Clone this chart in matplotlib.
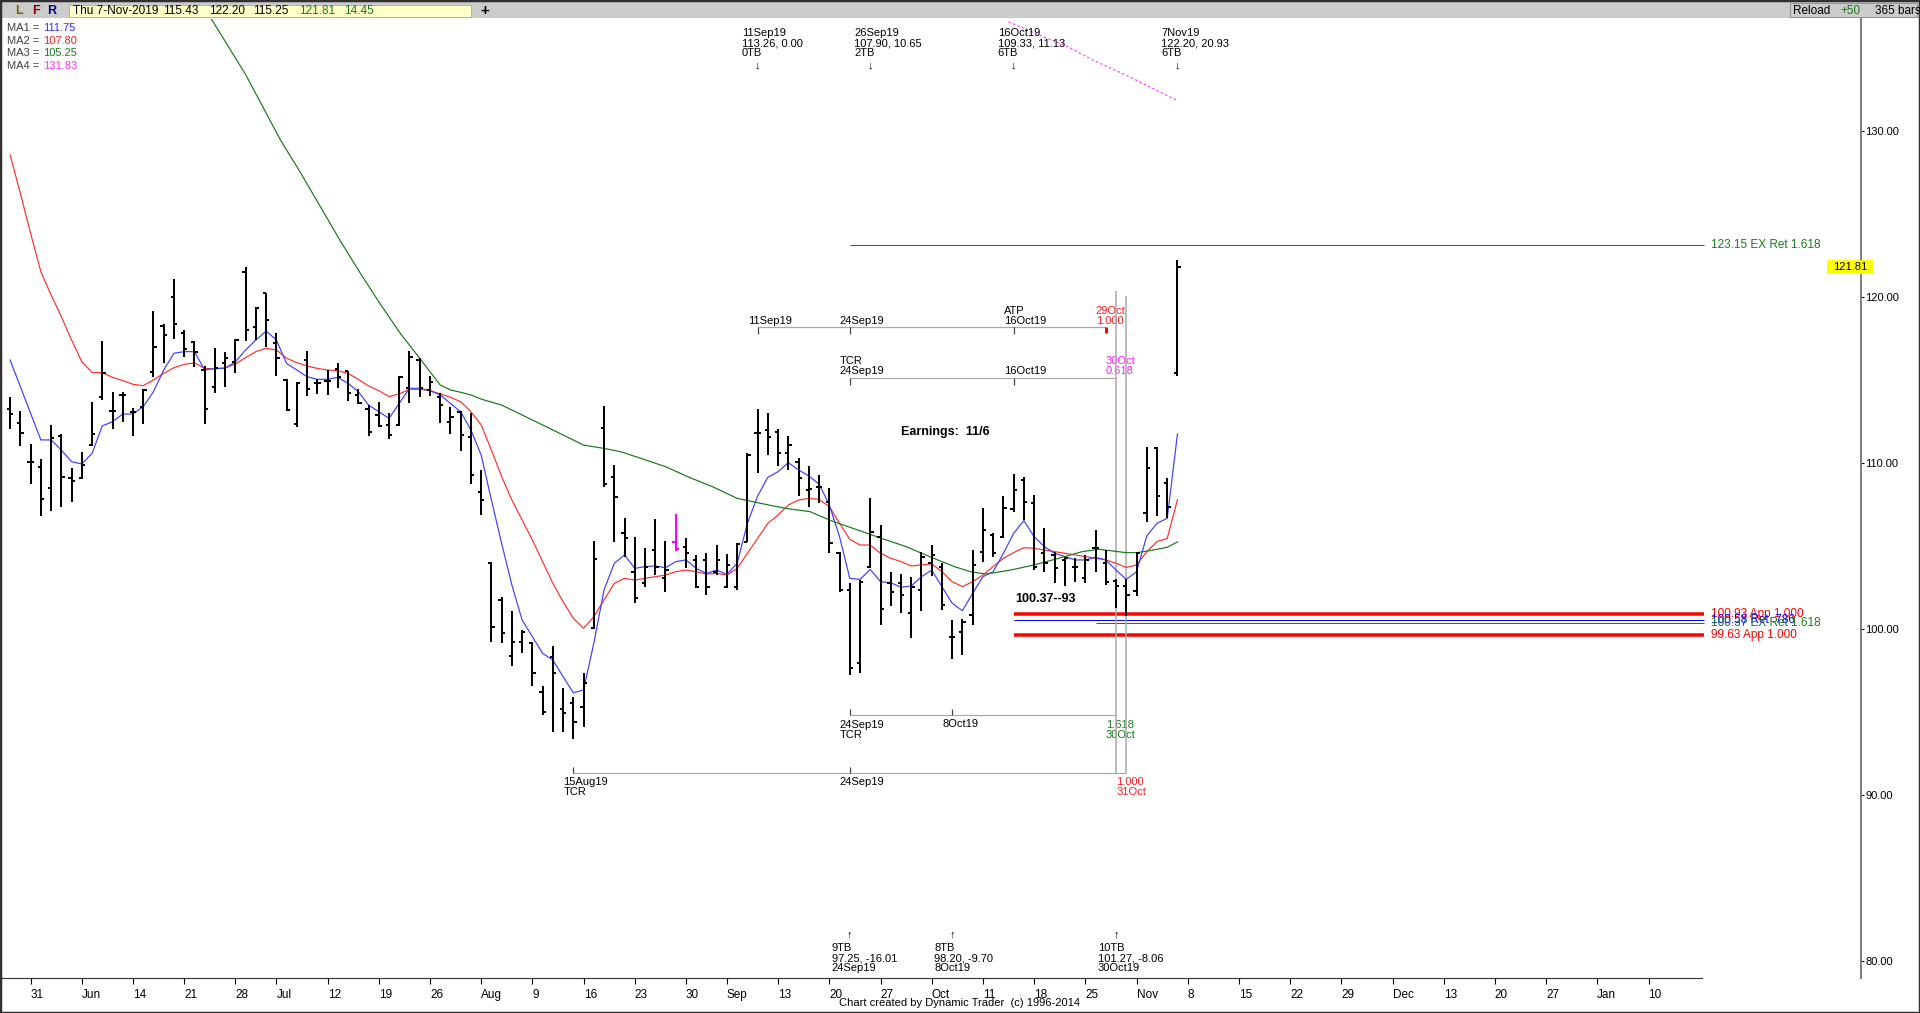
import numpy as np
import matplotlib
matplotlib.use('Agg')
import matplotlib.pyplot as plt
from matplotlib.patches import Rectangle
from matplotlib.transforms import offset_copy

plt.rcParams['font.family'] = ['Liberation Sans', 'DejaVu Sans']

# layout of the screen grab (pixels)
W, H = 1920, 1013
X0, PXB = 30.6, 10.24     # pixel of bar 0 (31May19), pixels per bar
Y100, PXP = 629.0, 16.6   # pixel of price 100, pixels per point

def ix(px): return (px - X0) / PXB
def pr(py): return 100 + (Y100 - py) / PXP
def fy(py): return 1 - py / H
def fx(px): return px / W

# daily bars 29May19 .. 7Nov19 (trading day index, 31May19 = 0)
bar_idx = np.arange(-2, 113)
highlight_bar = 63

opens = [113.23, 112.39, 110.06, 109.78, 108.51, 111.63, 109.08, 109.08, 111.08, 113.96,
         113.15, 114.10, 113.09, 113.39, 115.50, 118.25, 120.02, 117.85, 117.31, 115.60,
         114.60, 116.00, 116.10, 121.53, 118.21, 120.22, 117.21, 115.00, 112.35, 116.20,
         114.80, 114.96, 115.64, 115.54, 114.10, 113.23, 112.89, 112.29, 112.29, 114.50,
         116.20, 114.40, 114.00, 112.49, 113.09, 111.59, 108.27, 103.96, 101.75, 98.39,
         99.24, 99.14, 96.22, 98.33, 95.16, 95.52, 95.32, 100.04, 112.09, 109.18,
         105.76, 103.45, 102.75, 104.76, 103.05, 105.26, 104.96, 104.16, 104.16, 103.45,
         102.55, 102.55, 105.26, 111.79, 112.00, 111.87, 110.58, 110.08, 108.37, 108.57,
         107.67, 104.56, 102.35, 97.93, 103.76, 105.56, 102.79, 102.75, 100.94, 102.35,
         103.96, 103.76, 99.50, 99.84, 100.84, 104.66, 105.66, 105.56, 107.21, 108.98,
         107.57, 104.56, 104.46, 104.16, 103.76, 103.05, 104.86, 103.96, 102.90, 102.60,
         102.30, 107.01, 110.88, 108.78, 115.43]
highs = [113.96, 113.15, 111.14, 110.24, 112.29, 111.73, 109.68, 110.64, 113.65, 117.37,
         114.26, 114.26, 113.29, 114.44, 119.16, 118.35, 121.06, 118.01, 117.35, 115.86,
         116.91, 116.71, 117.47, 121.83, 119.42, 120.26, 117.81, 115.04, 114.86, 116.75,
         115.04, 115.60, 116.04, 115.56, 114.46, 113.49, 113.69, 113.03, 115.24, 116.75,
         116.31, 115.24, 114.20, 113.39, 113.15, 112.99, 109.58, 104.06, 101.95, 101.10,
         99.94, 99.24, 96.57, 98.98, 96.47, 95.92, 97.37, 105.30, 113.43, 109.88,
         106.67, 105.56, 104.86, 106.61, 105.30, 106.93, 105.46, 104.46, 104.56, 105.06,
         104.52, 105.16, 110.58, 113.26, 113.03, 112.03, 111.63, 110.28, 109.82, 109.28,
         108.47, 104.66, 102.79, 102.95, 107.90, 106.27, 103.45, 103.31, 103.15, 104.66,
         105.06, 103.96, 100.54, 100.58, 104.76, 107.27, 105.80, 108.01, 109.33, 109.18,
         108.07, 106.06, 104.66, 104.36, 104.26, 104.46, 105.96, 104.76, 103.00, 103.00,
         104.66, 110.98, 110.98, 109.08, 122.20]
lows = [112.03, 111.02, 108.73, 106.81, 107.11, 107.33, 107.67, 109.02, 111.02, 113.80,
        112.03, 112.45, 111.63, 112.35, 115.20, 116.04, 117.47, 116.37, 115.80, 112.35,
        114.20, 114.60, 115.40, 117.35, 117.41, 116.97, 115.26, 113.15, 112.15, 114.04,
        114.16, 114.10, 114.50, 113.76, 113.55, 111.63, 112.15, 111.45, 112.25, 113.59,
        113.96, 114.04, 112.39, 111.73, 110.74, 108.71, 106.87, 99.24, 99.14, 97.77,
        98.53, 96.57, 94.82, 93.82, 93.82, 93.35, 94.08, 99.98, 108.53, 105.26,
        104.36, 101.55, 102.55, 103.25, 102.21, 104.72, 103.65, 102.45, 102.05, 103.25,
        102.45, 102.35, 105.26, 109.38, 110.48, 109.82, 109.58, 108.01, 107.37, 107.61,
        104.60, 102.25, 97.25, 97.37, 103.65, 100.24, 101.39, 100.98, 99.44, 101.10,
        103.19, 101.14, 98.20, 98.43, 100.24, 104.06, 104.36, 105.46, 107.07, 106.57,
        103.55, 103.45, 102.75, 102.59, 102.85, 102.79, 103.45, 102.65, 101.27, 100.78,
        102.00, 106.47, 106.81, 106.67, 115.25]
closes = [112.95, 111.83, 110.06, 107.81, 111.49, 109.18, 108.94, 109.88, 111.75, 115.44,
          113.15, 114.10, 113.09, 114.40, 116.97, 117.71, 118.35, 116.87, 116.71, 113.23,
          115.74, 116.31, 117.41, 118.01, 119.32, 118.61, 116.31, 113.19, 114.80, 114.44,
          114.80, 114.96, 115.16, 114.20, 113.59, 111.85, 112.23, 111.69, 115.16, 116.41,
          114.50, 114.90, 113.49, 112.75, 111.69, 109.28, 107.77, 100.14, 99.74, 99.24,
          99.84, 97.37, 95.02, 97.37, 94.92, 94.42, 96.73, 104.22, 108.73, 107.93,
          105.46, 101.89, 103.76, 103.76, 103.55, 104.80, 104.56, 102.55, 102.55, 104.16,
          103.86, 105.12, 110.48, 111.83, 111.59, 110.58, 111.08, 109.08, 108.41, 108.57,
          105.16, 102.35, 97.63, 102.85, 105.86, 101.18, 102.25, 102.05, 102.55, 104.36,
          104.46, 101.45, 99.54, 100.44, 103.86, 105.96, 104.56, 107.27, 108.37, 107.67,
          103.76, 103.96, 103.65, 104.26, 103.76, 104.16, 104.86, 102.85, 102.60, 102.05,
          104.60, 109.68, 108.03, 107.37, 121.81]

# moving averages
ma1 = [116.20, 114.60, 112.99, 111.39, 111.39, 110.78, 110.08, 109.94, 110.58, 112.23,
       112.49, 112.95, 112.95, 113.39, 114.30, 115.60, 116.61, 116.71, 116.71, 115.60,
       115.70, 115.70, 116.10, 116.81, 117.41, 117.95, 117.41, 116.00, 115.60, 115.20,
       115.04, 115.04, 115.16, 114.80, 114.30, 113.49, 113.09, 112.69, 113.59, 114.50,
       114.50, 114.36, 114.10, 113.59, 113.09, 111.99, 110.48, 107.77, 105.16, 102.65,
       100.54, 99.54, 98.53, 98.13, 97.13, 96.16, 96.33, 99.14, 102.35, 103.96,
       104.46, 103.65, 103.76, 103.80, 103.69, 104.06, 104.16, 103.65, 103.35, 103.55,
       103.29, 103.96, 106.37, 108.01, 109.14, 109.48, 110.02, 109.58, 109.22, 108.73,
       107.47, 105.56, 103.05, 102.99, 103.59, 102.85, 102.79, 102.51, 102.59, 103.15,
       103.55, 102.55, 101.55, 101.10, 102.15, 103.15, 103.45, 104.56, 105.76, 106.53,
       105.56, 104.96, 104.56, 104.36, 104.16, 104.16, 104.32, 104.16, 103.55, 102.99,
       103.45, 105.60, 106.37, 106.67, 111.75]
ma2 = [128.55, 126.24, 123.84, 121.53, 120.12, 118.82, 117.41, 116.10, 115.46, 115.44,
       115.16, 114.96, 114.74, 114.66, 115.00, 115.40, 115.74, 115.94, 116.04, 115.70,
       115.66, 115.74, 115.96, 116.35, 116.71, 116.91, 116.81, 116.31, 116.04, 115.84,
       115.70, 115.60, 115.56, 115.40, 115.04, 114.64, 114.36, 114.00, 114.16, 114.44,
       114.44, 114.36, 114.16, 113.96, 113.69, 113.09, 112.29, 110.78, 109.18, 107.77,
       106.57, 105.36, 104.06, 102.75, 101.65, 100.64, 100.04, 100.74, 101.75, 102.75,
       103.05, 102.95, 103.05, 103.15, 103.25, 103.45, 103.55, 103.45, 103.31, 103.35,
       103.25, 103.65, 104.56, 105.46, 106.37, 106.87, 107.47, 107.77, 107.87, 107.81,
       107.37, 106.37, 105.40, 105.06, 105.06, 104.56, 104.26, 104.06, 103.80, 103.86,
       103.92, 103.45, 102.85, 102.55, 102.85, 103.25, 103.76, 104.26, 104.60, 104.90,
       104.86, 104.76, 104.66, 104.56, 104.46, 104.36, 104.26, 104.16, 103.96, 103.71,
       103.86, 104.66, 105.26, 105.46, 107.80]
ma3_x = [17.5, 21, 24.4, 26.3, 28.3, 30.2, 32.2, 34.1, 36.1, 38, 39, 40, 41, 42, 43, 44,
         46, 48, 51, 54, 56, 57.6, 59.6, 62, 64.3, 66.6, 69, 71.3, 73.7, 76.1, 78.4, 80.8,
         83.1, 85.5, 87.8, 90.2, 91.8, 93.3, 95.7, 98, 100.4, 102.7, 104.3, 107, 108,
         109.3, 111, 112]
ma3 = [136.9, 133.4, 129.46, 127.55, 125.44, 123.43, 121.43, 119.62, 117.81, 116.31,
       115.50, 114.70, 114.40, 114.26, 114.10, 113.85, 113.49, 112.89, 111.99, 111.08,
       110.88, 110.68, 110.28, 109.78, 109.14, 108.57, 107.87, 107.57, 107.27, 107.07,
       106.47, 105.96, 105.46, 104.96, 104.36, 103.76, 103.45, 103.31, 103.55, 103.86,
       104.26, 104.66, 104.80, 104.60, 104.60, 104.72, 104.92, 105.25]
ma4_x = [95.5, 98.5, 101.3, 103.7, 107.3, 112]
ma4 = [136.58, 135.78, 135.08, 134.28, 133.27, 131.83]

# date axis (Fridays; future bars are plain weekdays)
tick_idx = [0, 5, 10, 15, 20, 24, 29, 34, 39, 44, 49, 54, 59, 64, 68, 73, 78, 83, 88, 93,
            98, 103, 108, 113, 118, 123, 128, 133, 138, 143, 148, 153, 158]
tick_lbl = ['31', 'Jun', '14', '21', '28', 'Jul', '12', '19', '26', 'Aug', '9', '16', '23',
            '30', 'Sep', '13', '20', '27', 'Oct', '11', '18', '25', 'Nov', '8', '15', '22',
            '29', 'Dec', '13', '20', '27', 'Jan', '10']
price_ticks = [80, 90, 100, 110, 120, 130]

# projection levels
lvl_price = [123.15, 100.93, 100.55, 100.37, 99.63]
lvl_start = [80, 96, 96, 104, 96]
lvl_text = ['123.15 EX Ret 1.618', '100.93 App 1.000', '100.58 Ret .786',
            '100.37 EX Ret 1.618', '99.63 App 1.000']
lvl_color = ['#1a7a1a', '#ff0000', '#0000ff', '#1a7a1a', '#ff0000']
lvl_width = [1, 3.5, 1, 1, 3.5]

# swing labels: bar, text
top_swings = [(71, '11Sep19\n113.26, 0.00\n0TB'), (82, '26Sep19\n107.90, 10.65\n2TB'),
              (96, '16Oct19\n109.33, 11.13\n6TB'), (112, '7Nov19\n122.20, 20.93\n6TB')]
bot_swings = [(80, '9TB\n97.25, -16.01\n24Sep19'), (90, '8TB\n98.20, -9.70\n8Oct19'),
              (106, '10TB\n101.27, -8.06\n30Oct19')]

fig = plt.figure(figsize=(W / 100, H / 100), dpi=100)
fig.patch.set_facecolor('white')
ax = fig.add_axes([fx(2), fy(978), fx(1861) - fx(2), fy(19) - fy(978)])
ax.set_xlim(ix(2), ix(1861))
ax.set_ylim(pr(978), pr(19))
ax.set_facecolor('white')

PT = 0.72  # points per pixel

# bars
cols = ['#ff00ff' if i == highlight_bar else 'black' for i in bar_idx]
ax.vlines(bar_idx, lows, highs, colors=cols, lw=2 * PT, zorder=4)
ax.hlines(opens, bar_idx - 0.32, bar_idx, colors=cols, lw=2 * PT, zorder=4)
ax.hlines(closes, bar_idx, bar_idx + 0.32, colors=cols, lw=2 * PT, zorder=4)

# moving averages
ax.plot(bar_idx, ma2, color='#ff3030', lw=1.2 * PT, zorder=3)
ax.plot(bar_idx, ma1, color='#4040ff', lw=1.2 * PT, zorder=3)
ax.plot(ma3_x, ma3, color='#1a7a1a', lw=1.2 * PT, zorder=3)
ax.plot(ma4_x, ma4, color='#ff40ff', lw=1.2 * PT, ls=(0, (2, 2)), zorder=3)

# projection levels
x_end = ix(1704)
for p, s, t, c, w in zip(lvl_price, lvl_start, lvl_text, lvl_color, lvl_width):
    ax.hlines(p, s, x_end, color=c, lw=w * PT, zorder=2)
    ax.text(ix(1711), p, t, color=c, fontsize=8.5, va='center', ha='left')

ax.text(ix(1015), pr(599), '100.37--93', fontsize=9, fontweight='bold', va='center')
ax.text(ix(901), pr(432), 'Earnings:  11/6', fontsize=9, fontweight='bold', va='center')

# time rulers
grey = '#a8a8a8'
def off(dx=0, dy=0):
    return offset_copy(ax.transData, fig=fig, x=dx, y=dy, units='dots')

def ruler(y_px, i0, i1, ticks, down):
    ax.hlines(pr(y_px), i0, i1, color=grey, lw=1.2 * PT, zorder=2)
    for t in ticks:
        ax.vlines(t, pr(y_px), pr(y_px + (7 if down else -6)), color='#404040', lw=1.2 * PT, zorder=2)

def tlabel(i, y_px, s, color='black'):
    ax.text(i, pr(y_px), s, transform=off(-10), color=color, fontsize=8,
            va='center', ha='left', linespacing=0.95, zorder=1)

ruler(327, 71, 105, [71, 80, 96], True)
ax.vlines(105, pr(327), pr(333), color='red', lw=3 * PT, zorder=3)
tlabel(71, 321, '11Sep19')
tlabel(80, 321, '24Sep19')
tlabel(96, 316, 'ATP\n16Oct19')
tlabel(105, 316, '29Oct\n1.000', '#ff2020')

ruler(378, 80, 106, [80, 96], True)
tlabel(80, 366, 'TCR\n24Sep19')
tlabel(96, 371, '16Oct19')
tlabel(106, 366, '30Oct\n0.618', '#ff20ff')

ruler(715, 80, 106, [80, 90], False)
tlabel(80, 730, '24Sep19\nTCR')
tlabel(90, 724, '8Oct19')
tlabel(106, 730, '1.618\n30Oct', '#1a7a1a')

ruler(773, 53, 107, [53, 80], False)
tlabel(53, 787, '15Aug19\nTCR')
tlabel(80, 782, '24Sep19')
tlabel(107, 787, '1.000\n31Oct', '#ff2020')

ax.vlines(106, pr(773), pr(291), color=grey, lw=1.5 * PT, zorder=2)
ax.vlines(107, pr(773), pr(296), color=grey, lw=1.5 * PT, zorder=2)

# swing annotations
for i, s in top_swings:
    ax.text(i, pr(43), s, transform=off(-16), fontsize=8, va='center', ha='left',
            linespacing=1.0)
    ax.text(i, pr(65), '\u2193', fontsize=8, va='center', ha='center')
for i, s in bot_swings:
    ax.text(i, pr(958), s, transform=off(-18), fontsize=8, va='center', ha='left',
            linespacing=1.0)
    ax.text(i, pr(934), '\u2191', fontsize=8, va='center', ha='center')

# axes
for k in ['left', 'top']:
    ax.spines[k].set_visible(False)
ax.spines['bottom'].set_bounds(ix(2), ix(1702))
ax.spines['bottom'].set_color('#303030')
ax.spines['right'].set_color('#808080')
ax.spines['right'].set_linewidth(2 * PT)
ax.set_xticks(tick_idx)
ax.set_xticklabels(tick_lbl, family=['Liberation Sans Narrow', 'Liberation Sans'], fontsize=8.5)
for t in ax.get_xticklabels():
    t.set_ha('left')
ax.tick_params(axis='x', direction='out', length=4, width=0.8, pad=4, colors='black')
ax.yaxis.tick_right()
ax.set_yticks(price_ticks)
ax.set_yticklabels(['%.2f' % p for p in price_ticks], fontsize=8)
ax.tick_params(axis='y', direction='out', length=2, width=0.8, pad=1)

# last price marker
fig.patches.append(Rectangle((fx(1827), fy(274)), fx(46), 14 / H, transform=fig.transFigure,
                             fc='#ffff00', ec='none', zorder=5))
fig.text(fx(1850), fy(267), '121.81', fontsize=8, ha='center', va='center', zorder=6)

# toolbar
fig.patches.append(Rectangle((0, fy(18.5)), 1, 17 / H, transform=fig.transFigure,
                             fc='#cbcbcb', ec='none'))
fig.patches.append(Rectangle((0, fy(2)), 1, 2 / H, transform=fig.transFigure,
                             fc='#505050', ec='none'))
fig.patches.append(Rectangle((fx(69), fy(17)), fx(402), 12 / H, transform=fig.transFigure,
                             fc='#ffffc8', ec='#a0a0a0', lw=0.5))
for x, s, c in [(19, 'L', '#6b6b00'), (36, 'F', '#800000'), (52, 'R', '#000080')]:
    fig.text(fx(x), fy(11), s, color=c, fontsize=9, fontweight='bold', ha='center', va='center')
for x, s, c in [(73, 'Thu 7-Nov-2019', 'black'), (163, '115.43', 'black'),
                (209, '122.20', 'black'), (253, '115.25', 'black'),
                (299, '121.81', '#1a7a1a'), (344, '14.45', '#1a7a1a')]:
    fig.text(fx(x), fy(11), s, color=c, fontsize=8.5, ha='left', va='center')
fig.text(fx(485), fy(11), '+', fontsize=11, fontweight='bold', ha='center', va='center')
fig.patches.append(Rectangle((fx(1790), fy(17)), fx(127), 14 / H, transform=fig.transFigure,
                             fc='#cbcbcb', ec='#808080', lw=0.5))
fig.text(fx(1793), fy(11), 'Reload', fontsize=8.5, ha='left', va='center')
fig.text(fx(1840), fy(11), '+50', color='#1a7a1a', fontsize=8.5, ha='left', va='center')
fig.text(fx(1875), fy(11), '365 bars', fontsize=8.5, ha='left', va='center')

# MA legend
for y, n, v, c in [(28, 'MA1', '111.75', '#3030ff'), (41, 'MA2', '107.80', '#ff2020'),
                   (53, 'MA3', '105.25', '#1a7a1a'), (66, 'MA4', '131.83', '#ff30ff')]:
    fig.text(fx(7), fy(y), n + ' =', color='#404040', fontsize=8, ha='left', va='center')
    fig.text(fx(43), fy(y), v, color=c, fontsize=8, ha='left', va='center')

fig.text(fx(839), fy(1003), 'Chart created by Dynamic Trader  (c) 1996-2014', fontsize=8,
         ha='left', va='center')

# window frame
fig.patches.append(Rectangle((0, 0), 1, 1, transform=fig.transFigure, fc='none',
                             ec='#303030', lw=2.5))

fig.savefig('out.png', dpi=100)
